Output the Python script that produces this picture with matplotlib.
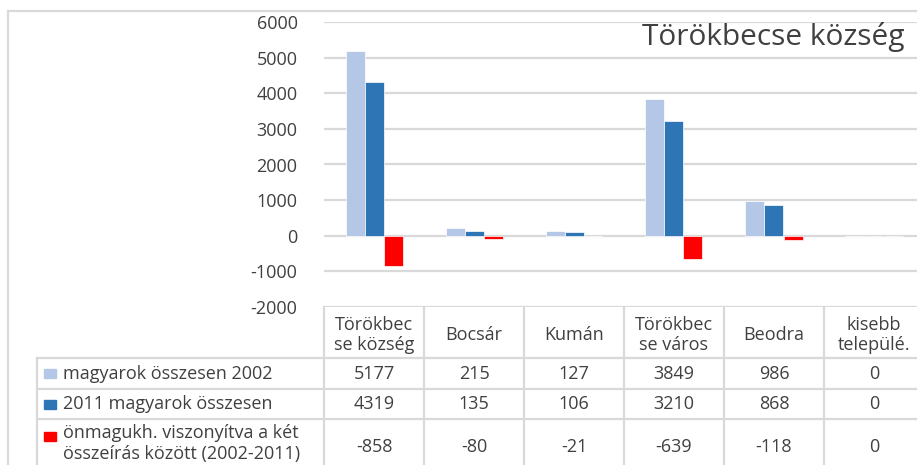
import numpy as np
import matplotlib.pyplot as plt
from matplotlib import transforms
from matplotlib.lines import Line2D
from matplotlib.patches import Rectangle

plt.rcParams['font.family'] = ['Open Sans', 'DejaVu Sans']

categories = ["Törökbec\nse község", "Bocsár", "Kumán", "Törökbec\nse város", "Beodra", "kisebb\ntelepülé."]
series_names = ["magyarok összesen 2002", "2011 magyarok összesen",
                "önmagukh. viszonyítva a két\nösszeírás között (2002-2011)"]
values_2002 = [5177, 215, 127, 3849, 986, 0]
values_2011 = [4319, 135, 106, 3210, 868, 0]
values_diff = [-858, -80, -21, -639, -118, 0]
colors = ["#b4c7e7", "#2e75b6", "#ff0000"]
yticks = [-2000, -1000, 0, 1000, 2000, 3000, 4000, 5000, 6000]

W, H = 917, 465
GRID = "#d9d9d9"
TXT = "#404040"
FS = 13


def fx(px):
    return px / W


def fy(px):
    return 1 - px / H


fig = plt.figure(figsize=(W / 100, H / 100), dpi=100)
fig.patch.set_facecolor("white")

# plot area, runs a little past the right edge like the original
ax = fig.add_axes([fx(324), fy(307), 600 / W, (307 - 22) / H])
ax.set_xlim(-0.5, len(categories) - 0.5)
ax.set_ylim(-2000, 6000)
ax.set_yticks(yticks)
ax.set_yticklabels([str(t) for t in yticks], fontsize=FS, color=TXT)
ax.tick_params(axis="y", length=0, pad=19)
ax.set_xticks([])
for s in ax.spines.values():
    s.set_visible(False)
ax.grid(axis="y", color=GRID, linewidth=1.6)
ax.set_axisbelow(True)

series = [values_2002, values_2011, values_diff]
x = np.arange(len(categories))
bw = 0.19
for k, vals in enumerate(series):
    ax.bar(x + (k - 1) * bw, vals, width=bw, color=colors[k],
           edgecolor="white", linewidth=0.5, zorder=3)

fig.text(fx(904), fy(37), "Törökbecse község", ha="right", va="center",
         fontsize=21.5, color=TXT)

# outer chart border
fig.add_artist(Line2D([fx(8), fx(8)], [fy(11), 0], color=GRID, lw=1.6))
fig.add_artist(Line2D([fx(8), 1], [fy(11), fy(11)], color=GRID, lw=1.6))

# data table
bt = transforms.blended_transform_factory(ax.transData, fig.transFigure)
for yl in [358, 389, 419]:
    fig.add_artist(Line2D([fx(37), 1], [fy(yl), fy(yl)], color=GRID, lw=1.6))
fig.add_artist(Line2D([fx(37), fx(37)], [fy(358), 0], color=GRID, lw=1.6))
for i in range(len(categories) + 1):
    fig.add_artist(Line2D([i - 0.5, i - 0.5], [fy(307), 0], color=GRID,
                          lw=1.6, transform=bt))

row_centers = [373.5, 404, 447]
for i, cat in enumerate(categories):
    fig.text(i, fy(335), cat, transform=bt, ha="center", va="center",
             fontsize=FS, color=TXT, linespacing=1.2)
    for r, vals in enumerate(series):
        fig.text(i, fy(row_centers[r]), str(vals[i]), transform=bt,
                 ha="center", va="center", fontsize=FS, color=TXT)

# legend keys + series names
key_y = [373.5, 404, 436]
for r, name in enumerate(series_names):
    fig.add_artist(Rectangle((fx(44), fy(key_y[r] + 4.5)), 12 / W, 9 / H,
                             color=colors[r], transform=fig.transFigure))
    if r < 2:
        fig.text(fx(63), fy(key_y[r]), name, ha="left", va="center",
                 fontsize=FS, color=TXT)
    else:
        fig.text(fx(63), fy(424), name, ha="left", va="top",
                 fontsize=FS, color=TXT, linespacing=1.2)

fig.savefig("out.png", dpi=100)
